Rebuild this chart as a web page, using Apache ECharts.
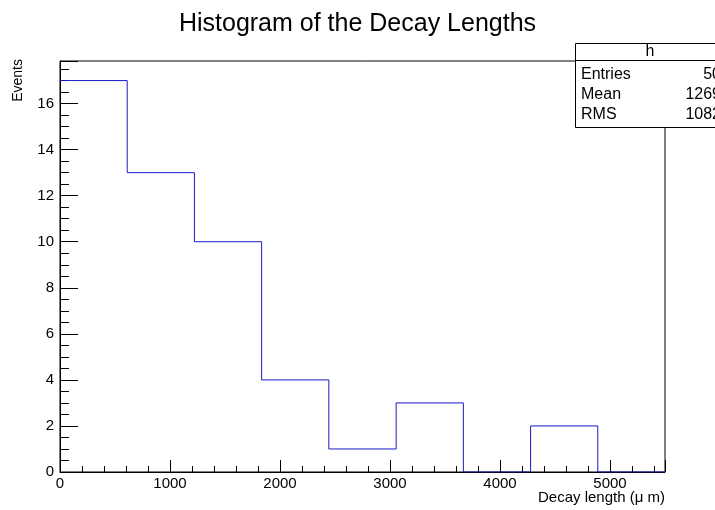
<!DOCTYPE html>
<html>
<head>
<meta charset="utf-8">
<script src="https://cdn.jsdelivr.net/npm/echarts@6/dist/echarts.min.js"></script>
<style>
  html, body { margin: 0; padding: 0; background: #fff; }
  #chart { width: 715px; height: 510px; }
</style>
</head>
<body>
<div id="chart"></div>
<script>
// histogram h: 9 bins between 0 and 5500
const binEdges = [0, 611, 1222, 1833, 2444, 3056, 3667, 4278, 4889, 5500];
const binCounts = [17, 13, 10, 4, 1, 3, 0, 2, 0];
const statLabels = ['Entries', 'Mean', 'RMS'];
const statValues = ['50', '1269', '1082'];

// step outline: each bin gives two points (low edge, high edge) at its count
const outline = [];
binCounts.forEach(function (c, i) {
  outline.push([binEdges[i], c]);
  outline.push([binEdges[i + 1], c]);
});

const font = 'Liberation Sans, Arial, sans-serif';
const chart = echarts.init(document.getElementById('chart'));

// stats box rows
const statGraphics = [];
statLabels.forEach(function (lab, i) {
  const y = 75 + i * 20;
  statGraphics.push({
    type: 'text', x: 581, y: y, z: 101,
    style: { text: lab, font: '16px ' + font, fill: '#000', verticalAlign: 'middle' }
  });
  statGraphics.push({
    type: 'text', x: 721, y: y, z: 101,
    style: { text: statValues[i], font: '16px ' + font, fill: '#000', align: 'right', verticalAlign: 'middle' }
  });
});

chart.setOption({
  animation: false,
  title: {
    text: 'Histogram of the Decay Lengths',
    left: 'center',
    top: 7,
    textStyle: { fontFamily: font, fontSize: 25, fontWeight: 'normal', color: '#000' }
  },
  grid: {
    left: 60, right: 50, top: 61, bottom: 38,
    show: true, borderColor: '#000', borderWidth: 1, backgroundColor: '#fff'
  },
  xAxis: {
    type: 'value',
    min: 0, max: 5500, interval: 1000,
    axisLine: { show: true, lineStyle: { color: '#000' } },
    axisTick: { show: true, inside: true, length: 12, lineStyle: { color: '#000' } },
    minorTick: { show: true, splitNumber: 5, length: 6, lineStyle: { color: '#000' } },
    splitLine: { show: false },
    axisLabel: {
      color: '#000', fontFamily: font, fontSize: 15, margin: 4, showMaxLabel: false,
      formatter: function (v) { return String(v); }
    }
  },
  yAxis: {
    type: 'value',
    min: 0, max: 17.85, interval: 2,
    axisLine: { show: true, lineStyle: { color: '#000' } },
    axisTick: { show: true, inside: true, length: 18, lineStyle: { color: '#000' } },
    minorTick: { show: true, splitNumber: 4, length: 9, lineStyle: { color: '#000' } },
    splitLine: { show: false },
    axisLabel: { color: '#000', fontFamily: font, fontSize: 15, margin: 6, showMaxLabel: false }
  },
  series: [{
    type: 'line',
    data: outline,
    showSymbol: false,
    z: 5,
    lineStyle: { color: '#1a1ac8', width: 1 }
  }],
  graphic: [
    {
      type: 'text', x: 18, y: 59, rotation: Math.PI / 2, z: 100,
      style: { text: 'Events', font: '14px ' + font, fill: '#000', align: 'right', verticalAlign: 'middle' }
    },
    {
      type: 'text', x: 665, y: 498, z: 100,
      style: { text: 'Decay length (\u03bc m)', font: '15px ' + font, fill: '#000', align: 'right', verticalAlign: 'middle' }
    },
    {
      type: 'rect', z: 100,
      shape: { x: 575.5, y: 43.5, width: 150, height: 84 },
      style: { fill: '#fff', stroke: '#000', lineWidth: 1 }
    },
    {
      type: 'line', z: 100,
      shape: { x1: 575, y1: 60.5, x2: 725, y2: 60.5 },
      style: { stroke: '#000', lineWidth: 1 }
    },
    {
      type: 'text', x: 650, y: 52, z: 101,
      style: { text: 'h', font: '16px ' + font, fill: '#000', align: 'center', verticalAlign: 'middle' }
    }
  ].concat(statGraphics)
});
</script>
</body>
</html>
